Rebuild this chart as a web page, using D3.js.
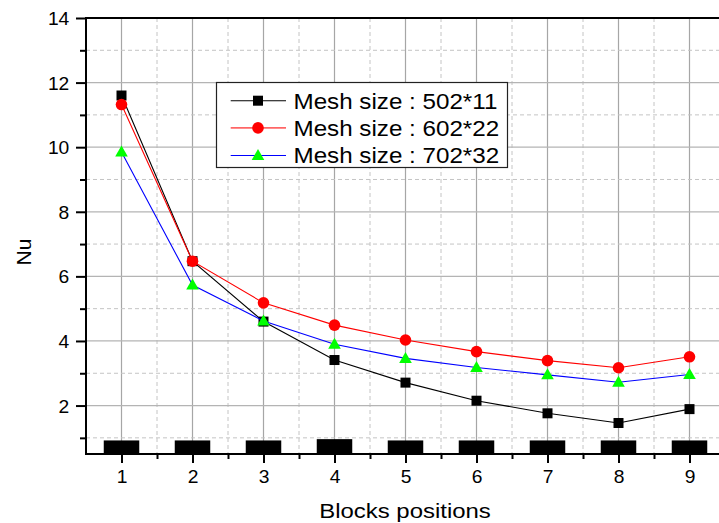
<!DOCTYPE html>
<html>
<head>
<meta charset="utf-8">
<script src="https://cdn.jsdelivr.net/npm/d3@7"></script>
<style>
  html, body { margin: 0; padding: 0; background: #fff; }
  svg { display: block; font-family: "Liberation Sans", Arial, sans-serif; }
</style>
</head>
<body>
<svg id="chart" width="719" height="523"></svg>
<script>
// ---- data ----
const positions = [1, 2, 3, 4, 5, 6, 7, 8, 9];
const mesh502x11 = [11.6, 6.47, 4.6, 3.41, 2.71, 2.15, 1.76, 1.46, 1.89];
const mesh602x22 = [11.32, 6.47, 5.18, 4.49, 4.03, 3.67, 3.39, 3.17, 3.51];
const mesh702x32 = [9.85, 5.73, 4.62, 3.9, 3.46, 3.18, 2.95, 2.72, 2.96];
const blockHeights = [0.92, 0.92, 0.92, 0.96, 0.92, 0.92, 0.92, 0.92, 0.92];
const seriesNames = ["Mesh size : 502*11", "Mesh size : 602*22", "Mesh size : 702*32"];
const yTicks = [2, 4, 6, 8, 10, 12, 14];
const yMinorTicks = [1, 3, 5, 7, 9, 11, 13];
const xMinorTicks = [1.5, 2.5, 3.5, 4.5, 5.5, 6.5, 7.5, 8.5, 9.5];
const xTitle = "Blocks positions";
const yTitle = "Nu";

const svg = d3.select("#chart");
const L = 86, R = 725, T = 18, B = 454;
const x = d3.scaleLinear().domain([0.5, 9.5]).range([L, R]);
const y = d3.scaleLinear().domain([0.5, 14]).range([B, T]);

// ---- grid ----
const grid = svg.append("g");
grid.selectAll(".vmaj").data(positions).enter().append("line")
  .attr("x1", d => x(d)).attr("x2", d => x(d)).attr("y1", T).attr("y2", B)
  .attr("stroke", "#a6a6a6").attr("stroke-width", 1.2);
grid.selectAll(".vmin").data(xMinorTicks).enter().append("line")
  .attr("x1", d => x(d)).attr("x2", d => x(d)).attr("y1", T).attr("y2", B)
  .attr("stroke", "#c4c4c4").attr("stroke-width", 1).attr("stroke-dasharray", "4,3");
grid.selectAll(".hmaj").data(yTicks.filter(d => d < 14)).enter().append("line")
  .attr("x1", L).attr("x2", R).attr("y1", d => y(d)).attr("y2", d => y(d))
  .attr("stroke", "#b4b4b4").attr("stroke-width", 1.2);
grid.selectAll(".hmin").data(yMinorTicks).enter().append("line")
  .attr("x1", L).attr("x2", R).attr("y1", d => y(d)).attr("y2", d => y(d))
  .attr("stroke", "#c4c4c4").attr("stroke-width", 1).attr("stroke-dasharray", "4,3");

// ---- blocks ----
const bw = x(1.5) - x(1);
svg.append("g").selectAll("rect").data(positions).enter().append("rect")
  .attr("x", d => x(d) - bw / 2)
  .attr("y", (d, i) => y(blockHeights[i]))
  .attr("width", bw)
  .attr("height", (d, i) => B - y(blockHeights[i]))
  .attr("fill", "#000");

// ---- axes ----
const fs = 17.5, sx = 1.1;
const xAxis = svg.append("g").attr("transform", `translate(0,${B})`)
  .call(d3.axisBottom(x).tickValues(positions).tickSize(9).tickPadding(7.3).tickFormat(d3.format("d")));
const xMinor = svg.append("g").attr("transform", `translate(0,${B})`)
  .call(d3.axisBottom(x).tickValues(xMinorTicks).tickSize(5).tickFormat(""));
const yAxis = svg.append("g").attr("transform", `translate(${L},0)`)
  .call(d3.axisLeft(y).tickValues(yTicks).tickSize(10).tickFormat(d3.format("d")));
const yMinor = svg.append("g").attr("transform", `translate(${L},0)`)
  .call(d3.axisLeft(y).tickValues(yMinorTicks).tickSize(6).tickFormat(""));

[xAxis, xMinor, yAxis, yMinor].forEach(g => {
  g.select(".domain").remove();
  g.selectAll(".tick line").attr("stroke", "#000").attr("stroke-width", 2);
});
xAxis.selectAll("text").attr("font-size", fs).attr("fill", "#000")
  .attr("font-family", "Liberation Sans, Arial, sans-serif")
  .attr("transform", `scale(${sx},1)`);
yAxis.selectAll("text").attr("font-size", fs).attr("fill", "#000")
  .attr("font-family", "Liberation Sans, Arial, sans-serif")
  .attr("x", -16.7 / sx).attr("dy", "0.37em")
  .attr("transform", `scale(${sx},1)`);

// frame lines: left, bottom, top
svg.append("line").attr("x1", L).attr("x2", L).attr("y1", T).attr("y2", B + 1)
  .attr("stroke", "#000").attr("stroke-width", 2);
svg.append("line").attr("x1", L - 1).attr("x2", R).attr("y1", B).attr("y2", B)
  .attr("stroke", "#000").attr("stroke-width", 2);
svg.append("line").attr("x1", L - 1).attr("x2", R).attr("y1", T).attr("y2", T)
  .attr("stroke", "#000").attr("stroke-width", 2);

// ---- series ----
const series = [
  { name: seriesNames[0], values: mesh502x11, line: "#000000", fill: "#000000", shape: "square" },
  { name: seriesNames[1], values: mesh602x22, line: "#ff0000", fill: "#ff0000", shape: "circle" },
  { name: seriesNames[2], values: mesh702x32, line: "#0000ff", fill: "#00ff00", shape: "triangle" }
];
function drawMarker(g, shape, fill) {
  if (shape === "square") {
    g.append("rect").attr("x", -5).attr("y", -5).attr("width", 10).attr("height", 10).attr("fill", fill);
  } else if (shape === "circle") {
    g.append("circle").attr("r", 5.8).attr("fill", fill);
  } else {
    g.append("path").attr("d", "M0,-6.5L6.3,4.5L-6.3,4.5Z").attr("fill", fill);
  }
}
const lineGen = d3.line().x((d, i) => x(positions[i])).y(d => y(d));
series.forEach(s => {
  const g = svg.append("g");
  g.append("path").datum(s.values).attr("d", lineGen)
    .attr("fill", "none").attr("stroke", s.line).attr("stroke-width", 1.1);
  s.values.forEach((v, i) => {
    const m = g.append("g").attr("transform", `translate(${x(positions[i])},${y(v)})`);
    drawMarker(m, s.shape, s.fill);
  });
});

// ---- legend ----
const leg = svg.append("g");
leg.append("rect").attr("x", 216.5).attr("y", 82.5).attr("width", 291).attr("height", 85)
  .attr("fill", "#fff").attr("stroke", "#222").attr("stroke-width", 1.2);
const rowY = [100.7, 127.9, 155.5];
series.forEach((s, i) => {
  leg.append("line").attr("x1", 230.7).attr("x2", 286).attr("y1", rowY[i]).attr("y2", rowY[i])
    .attr("stroke", s.line).attr("stroke-width", i === 1 ? 1.6 : 1.1)
    .attr("stroke-opacity", i === 1 ? 0.6 : 1);
  const m = leg.append("g").attr("transform", `translate(258,${rowY[i]})`);
  drawMarker(m, s.shape, s.fill);
  leg.append("text").attr("transform", `translate(293.5,${rowY[i] + 7.9}) scale(1.1,1)`)
    .attr("font-size", 22).attr("fill", "#000").text(s.name);
});

// ---- titles ----
svg.append("text").attr("transform", `translate(405,518) scale(1.14,1)`)
  .attr("text-anchor", "middle").attr("font-size", 21).attr("fill", "#000").text(xTitle);
svg.append("text").attr("transform", `translate(30.5,252) rotate(-90)`)
  .attr("text-anchor", "middle").attr("font-size", 21).attr("fill", "#000").text(yTitle);
</script>
</body>
</html>
